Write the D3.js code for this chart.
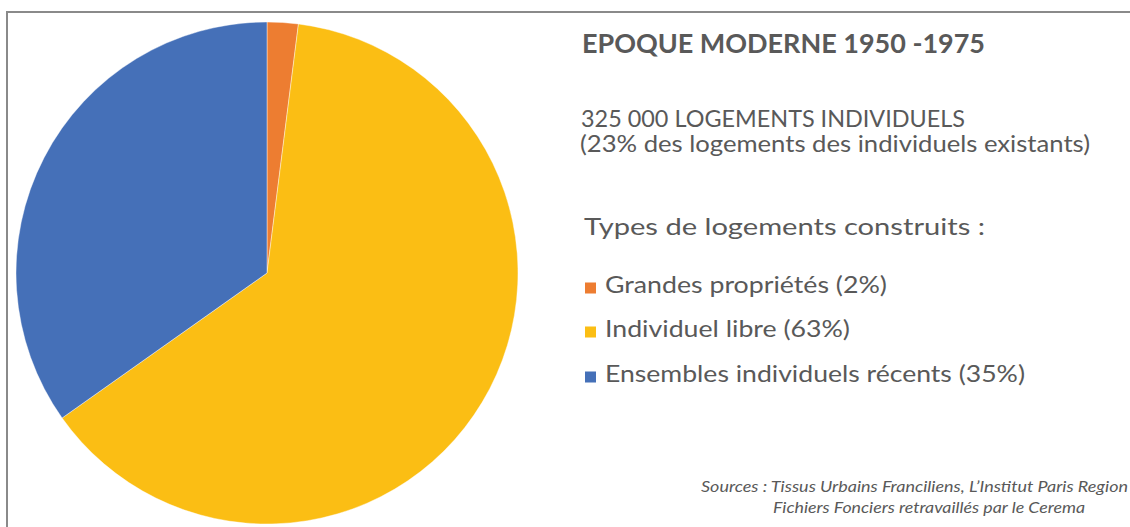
<!DOCTYPE html>
<html><head><meta charset="utf-8">
<script src="https://cdn.jsdelivr.net/npm/d3@7"></script>
<style>html,body{margin:0;padding:0;background:#fff;overflow:hidden}</style>
</head><body>
<svg id="chart" width="1130" height="527"></svg>
<script>
const categories = ["Grandes propriétés", "Individuel libre", "Ensembles individuels récents"];
const values = [2, 63.2, 34.8];
const labels = ["Grandes propriétés (2%)", "Individuel libre (63%)", "Ensembles individuels récents (35%)"];
const colors = ["#ED7D31", "#FBBE14", "#4570B8"];
const title = "EPOQUE MODERNE 1950 -1975";
const subtitle1 = "325 000 LOGEMENTS INDIVIDUELS";
const subtitle2 = "(23% des logements des individuels existants)";
const legendTitle = "Types de logements construits :";
const sources = ["Sources : Tissus Urbains Franciliens, L’Institut Paris Region", "Fichiers Fonciers retravaillés par le Cerema"];

const svg = d3.select("#chart");
const FONT = "Lato, 'Open Sans', sans-serif";
const TXT = "#595959";
const CAP = 0.72;

// frame
svg.append("path").attr("d", "M7,527 V12 H1130").attr("fill", "none").attr("stroke", "#8a8a8a").attr("stroke-width", 2);

// pie
const cx = 267, cy = 273, r = 251;
const pie = d3.pie().sort(null).value(d => d)(values);
const arc = d3.arc().innerRadius(0).outerRadius(r);
svg.append("g").attr("transform", `translate(${cx},${cy})`)
  .selectAll("path").data(pie).join("path")
  .attr("d", arc).attr("fill", (d, i) => colors[i])
  .attr("stroke", "#fff").attr("stroke-width", 0.6).attr("stroke-opacity", 0.7);

// text helper: size from cap height, stretch to target width
function fitText(txt, x, y, w, capH, opts = {}) {
  return svg.append("text").attr("x", x).attr("y", y).text(txt)
    .attr("font-family", FONT).attr("fill", TXT)
    .attr("font-weight", opts.weight || "normal")
    .attr("font-style", opts.style || "normal")
    .attr("font-size", (capH / CAP).toFixed(2))
    .attr("textLength", w).attr("lengthAdjust", "spacingAndGlyphs");
}

fitText(title, 582, 53, 403, 19, {weight: "bold"});
fitText(subtitle1, 581, 126.5, 384, 16.3);
fitText(subtitle2, 580, 152, 510, 16.3);
fitText(legendTitle, 584, 235, 401, 16.7);

const legendY = [293, 337, 382];
const legendW = [282, 245, 420];
const lg = svg.append("g");
labels.forEach((lab, i) => {
  lg.append("rect").attr("x", 585).attr("y", legendY[i] - 10.5).attr("width", 11).attr("height", 11).attr("fill", colors[i]);
  fitText(lab, 605, legendY[i], legendW[i], 16);
});

fitText(sources[0], 701, 492, 427, 10.5, {style: "italic"});
fitText(sources[1], 773, 513, 312, 10.5, {style: "italic"});
</script>
</body></html>
